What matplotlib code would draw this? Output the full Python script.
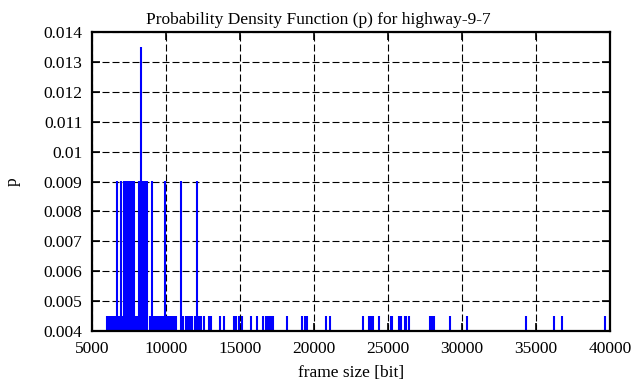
import matplotlib
matplotlib.use("Agg")
import matplotlib.pyplot as plt

# frame sizes [bit] seen once (p = 1/222)
sizes_p1 = [6010, 6120, 6230, 6340, 6450, 6560, 6780, 6850, 7060, 7960, 8060,
            8890, 8960, 9180, 9290, 9400, 9510, 9620, 9730, 9830, 10050, 10160,
            10270, 10430, 10540, 10650, 11150, 11330, 11440, 11550, 11660, 11780,
            11950, 12260,
            12343, 12568, 12928, 13041, 13649, 13919, 14617, 14730, 14933, 15158,
            15724, 16175, 16535, 16760, 16880, 17000, 17120, 17220, 18154,
            19170, 19400, 19560, 20800, 21100, 23330, 23740, 23860, 24000,
            24370, 25200, 25290, 25720, 25860, 26120, 26200, 26450,
            27840, 27960, 28100, 29180, 30330, 34310, 36210, 36745, 39660]
# frame sizes seen twice
sizes_p2 = [6690, 6960, 7190, 7300, 7410, 7520, 7630, 7740, 7840,
            8195, 8440, 8550, 8660, 8720, 9050, 9920, 11010, 12095]
# frame size seen three times
sizes_p3 = [8330]

p_unit = 1 / 222.0

fig = plt.figure(figsize=(6.36, 3.87), dpi=100)
ax = fig.add_axes([92 / 636, 1 - 331 / 387, 518 / 636, 299 / 387])

plt.rcParams['font.family'] = ['Liberation Serif', 'DejaVu Serif']
font = {'family': ['Liberation Serif', 'DejaVu Serif'], 'size': 12.5}

ax.vlines(sizes_p1, 0, p_unit, color='#0000ff', linewidth=1.5, zorder=3)
ax.vlines(sizes_p2, 0, 2 * p_unit, color='#0000ff', linewidth=1.5, zorder=3)
ax.vlines(sizes_p3, 0, 3 * p_unit, color='#0000ff', linewidth=1.5, zorder=3)

ax.set_xlim(5000, 40000)
ax.set_ylim(0.004, 0.014)
xt = [5000, 10000, 15000, 20000, 25000, 30000, 35000, 40000]
yt = [0.004, 0.005, 0.006, 0.007, 0.008, 0.009, 0.01, 0.011, 0.012, 0.013, 0.014]
ax.set_xticks(xt)
ax.set_xticklabels([str(v) for v in xt], fontdict=font)
ax.set_yticks(yt)
ax.set_yticklabels(['%g' % v for v in yt], fontdict=font)

ax.grid(True, color='black', linestyle=(0, (6.3, 2.7)), linewidth=0.8, zorder=1)
ax.tick_params(direction='in', length=6, width=1.2, top=True, right=True, pad=7)
for s in ax.spines.values():
    s.set_linewidth(1.6)
    s.set_zorder(4)

ax.set_xlabel('frame size [bit]', fontdict=font, labelpad=6)
ax.set_ylabel('p', fontdict=font, labelpad=16)
# gnuplot centres the title on the whole canvas, not the plot box
ax.set_title('Probability Density Function (p) for highway-9-7', fontdict=font,
             x=(318 - 92) / 518, pad=6)

fig.savefig('out.png', dpi=100)
